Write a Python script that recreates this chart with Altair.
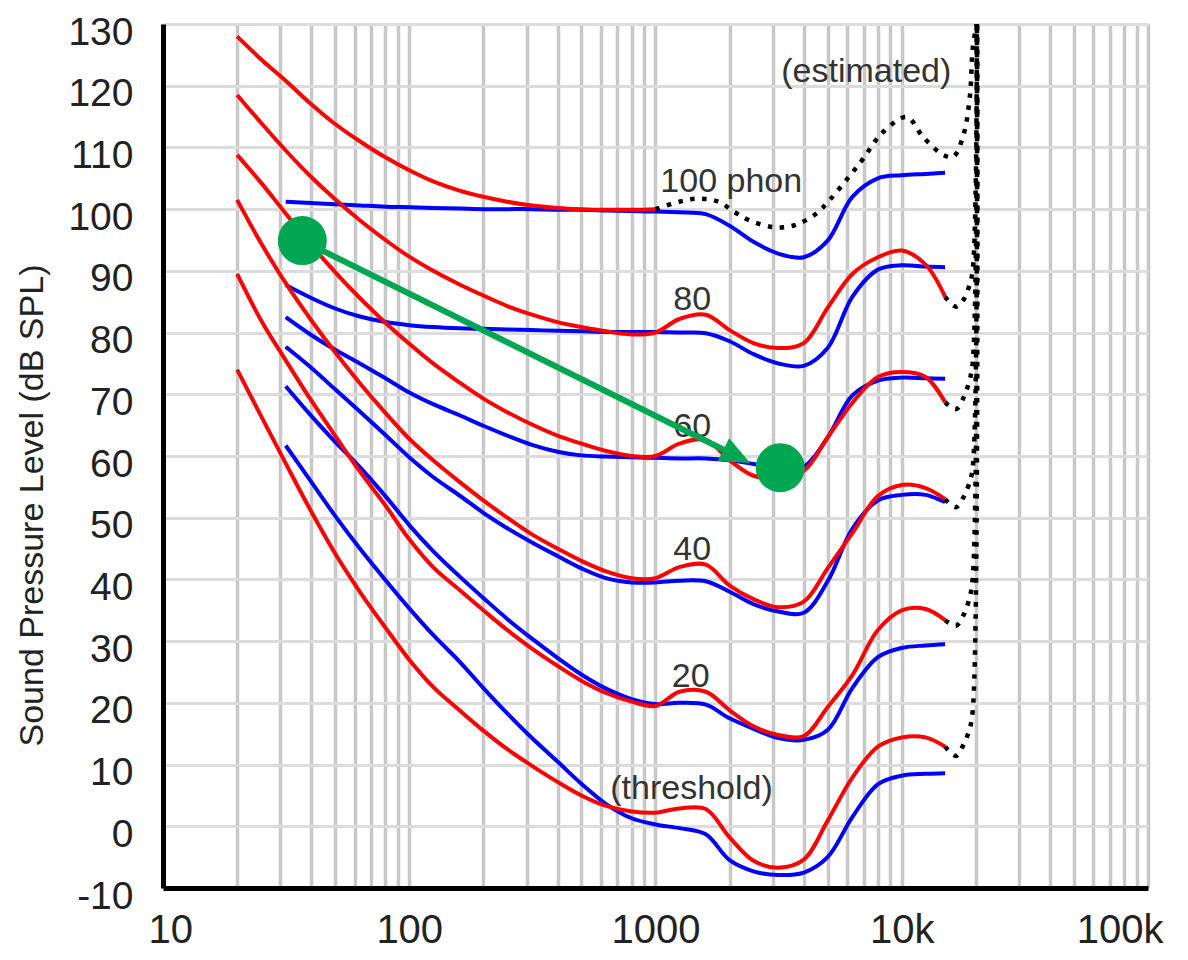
import altair as alt
import pandas as pd

# ---------------- data ----------------
FREQ = [20, 25, 31.5, 40, 50, 63, 80, 100, 125, 160, 200, 250, 315, 400, 500,
        630, 800, 1000, 1250, 1600, 2000, 2500, 3150, 4000, 5000, 6300, 8000,
        10000, 12500, 15000]

RED_THR = [74.0, 66.5, 58.8, 51.0, 44.2, 38.0, 32.2, 27.0, 22.6, 18.8, 15.5, 12.5,
           9.8, 7.2, 5.0, 3.3, 2.4, 2.2, 2.9, 2.8, -1.8, -5.6, -6.7, -5.4, 0.9,
           7.9, 12.9, 14.4, 14.4, 12.9]
RED_20 = [89.5, 82.0, 75.5, 69.0, 63.3, 57.5, 52.0, 46.5, 42.0, 38.3, 35.0, 31.8,
          28.8, 26.0, 23.6, 21.6, 20.2, 19.5, 21.8, 21.8, 18.8, 16.2, 14.8, 14.6,
          19.3, 24.5, 31.8, 35.0, 35.2, 33.4]
RED_40 = [101.5, 94.5, 88.0, 82.0, 76.8, 71.8, 67.0, 62.8, 59.3, 55.8, 52.8, 50.0,
          47.3, 45.0, 43.0, 41.3, 40.2, 40.2, 42.0, 42.4, 39.0, 36.8, 35.5, 36.4,
          41.8, 47.5, 53.5, 55.3, 54.8, 53.0]
RED_60 = [108.8, 104.3, 99.3, 94.2, 89.8, 85.6, 81.6, 78.2, 75.0, 71.9, 69.3, 67.1,
          65.1, 63.3, 62.0, 60.8, 60.0, 60.0, 62.0, 62.6, 59.3, 56.8, 56.4, 57.6,
          63.0, 68.6, 72.8, 73.6, 72.8, 68.7]
RED_80 = [118.5, 114.0, 109.5, 105.2, 101.6, 98.2, 95.0, 92.3, 90.0, 87.8, 86.0, 84.3,
          82.9, 81.7, 80.9, 80.2, 79.7, 80.0, 82.2, 82.9, 80.4, 78.3, 77.5, 78.3,
          84.0, 89.5, 92.2, 93.3, 91.0, 85.8]
RED_100_FREQ = [20, 25, 31.5, 40, 50, 63, 80, 100, 125, 160, 200, 250, 315, 400,
                500, 630, 800, 1000]
RED_100 = [128.0, 124.3, 120.8, 117.0, 113.8, 111.0, 108.4, 106.3, 104.5, 103.0,
           102.0, 101.2, 100.6, 100.2, 100.0, 99.9, 99.9, 100.0]

BLUE_FREQ = [31.5, 40, 50, 63, 80, 100, 125, 160, 200, 250, 315, 400, 500, 630, 800,
             1000, 1250, 1600, 2000, 2500, 3150, 4000, 5000, 6300, 8000, 10000,
             12500, 15000]
BLUE_THR = [61.7, 55.8, 50.3, 45.0, 39.9, 35.3, 31.0, 26.7, 22.4, 18.3, 14.3, 10.5,
            6.9, 3.6, 1.3, 0.3, -0.3, -1.3, -5.5, -7.3, -7.9, -7.5, -5.0, 1.5, 6.8,
            8.2, 8.5, 8.6]
BLUE_20 = [71.3, 66.5, 62.3, 58.2, 53.5, 48.8, 44.6, 40.5, 37.0, 33.6, 30.4, 27.3,
           24.6, 22.3, 20.6, 19.8, 20.0, 19.7, 17.5, 15.8, 14.3, 14.0, 15.6, 22.4,
           27.4, 28.9, 29.3, 29.5]
BLUE_40 = [77.7, 74.3, 70.8, 67.2, 63.4, 59.8, 56.6, 53.6, 50.8, 48.3, 46.0, 43.8,
           41.8, 40.2, 39.5, 39.5, 39.8, 39.7, 38.0, 36.0, 34.8, 34.6, 39.7, 48.2,
           52.8, 53.7, 53.7, 52.5]
BLUE_60 = [82.5, 79.6, 77.2, 75.0, 72.6, 70.3, 68.4, 66.6, 64.9, 63.3, 61.8, 60.7,
           60.1, 59.9, 59.8, 59.7, 59.6, 59.6, 59.3, 58.7, 58.1, 58.3, 63.0, 69.8,
           72.2, 72.7, 72.6, 72.5]
BLUE_80 = [87.7, 85.6, 83.9, 82.6, 81.7, 81.2, 80.9, 80.7, 80.6, 80.5, 80.4, 80.3,
           80.2, 80.1, 80.1, 80.1, 80.0, 79.9, 78.6, 76.5, 75.0, 74.6, 77.5, 85.8,
           90.2, 90.9, 90.7, 90.6]
BLUE_100 = [101.2, 101.0, 100.8, 100.6, 100.4, 100.3, 100.2, 100.1, 100.0, 100.0,
            100.0, 99.9, 99.9, 99.8, 99.7, 99.6, 99.5, 99.2, 97.3, 94.7, 92.8, 92.2,
            94.9, 102.0, 105.0, 105.5, 105.7, 105.9]

EST_FREQ = [1000, 1250, 1500, 1800, 2100, 2400, 3000, 3500, 3900, 4500, 5100, 6800,
            8400, 10500, 12200, 14700, 16200, 17800, 18900, 19400, 20100]
EST_100 = [100.0, 101.2, 101.7, 101.2, 99.5, 98.2, 97.1, 97.2, 97.8, 99.3, 101.5,
           107.6, 112.5, 114.9, 111.7, 108.8, 108.5, 112.0, 118.2, 125.8, 130.0]

TAIL_FREQ = [15000, 16600, 17800, 18700, 19400, 20200]
TAIL_THR = [12.9, 11.4, 13.2, 15.3, 18.5, 130.0]
TAIL_20 = [33.4, 32.5, 34.2, 36.5, 40.0, 130.0]
TAIL_40 = [53.0, 51.7, 53.3, 55.3, 58.0, 130.0]
TAIL_60 = [68.7, 67.6, 69.4, 71.8, 75.0, 130.0]
TAIL_80 = [85.8, 84.2, 85.3, 87.3, 90.0, 130.0]

DOT_FREQ = [36.8, 3210]
DOT_DB = [94.9, 58.1]
ARROW_FREQ = [36.8, 2140]
ARROW_DB = [94.9, 59.95]

LABELS = ["(estimated)", "100 phon", "80", "60", "40", "20", "(threshold)"]
LABEL_FREQ = [7180, 2030, 1410, 1410, 1410, 1390, 1400]
LABEL_DB = [122.2, 104.4, 85.3, 64.7, 44.8, 24.2, 6.0]

X_DECADES = [10, 100, 1000, 10000]
X_TICK_TEXT = {10: "10", 100: "100", 1000: "1000", 10000: "10k", 100000: "100k"}
Y_TICKS = list(range(-10, 131, 10))

# ---------------- build tables ----------------
def frame(freqs, values, name):
    return pd.DataFrame({"freq": freqs, "db": values, "curve": name})

red_df = pd.concat([
    frame(FREQ, RED_THR, "thr"), frame(FREQ, RED_20, "20"),
    frame(FREQ, RED_40, "40"), frame(FREQ, RED_60, "60"),
    frame(FREQ, RED_80, "80"), frame(RED_100_FREQ, RED_100, "100"),
])
blue_df = pd.concat([
    frame(BLUE_FREQ, BLUE_THR, "thr"), frame(BLUE_FREQ, BLUE_20, "20"),
    frame(BLUE_FREQ, BLUE_40, "40"), frame(BLUE_FREQ, BLUE_60, "60"),
    frame(BLUE_FREQ, BLUE_80, "80"), frame(BLUE_FREQ, BLUE_100, "100"),
])
dot_df = pd.concat([
    frame(EST_FREQ, EST_100, "est"), frame(TAIL_FREQ, TAIL_THR, "tthr"),
    frame(TAIL_FREQ, TAIL_20, "t20"), frame(TAIL_FREQ, TAIL_40, "t40"),
    frame(TAIL_FREQ, TAIL_60, "t60"), frame(TAIL_FREQ, TAIL_80, "t80"),
])
label_df = pd.DataFrame({"freq": LABEL_FREQ, "db": LABEL_DB, "label": LABELS})
dots_df = pd.DataFrame({"freq": DOT_FREQ, "db": DOT_DB})
arrow_df = pd.DataFrame({"freq": ARROW_FREQ, "db": ARROW_DB})
head_df = arrow_df.iloc[[1]]

grid_vals = [m * d for d in X_DECADES for m in range(1, 10)] + [100000]
label_expr = " : ".join(
    f"datum.value == {k} ? '{v}'" for k, v in X_TICK_TEXT.items()) + " : ''"

FONT = "Liberation Sans"
x_axis = alt.Axis(values=grid_vals, labelExpr=label_expr, title=None, grid=True,
                  gridColor="#c8c8c8", gridWidth=3.5, ticks=False,
                  domainColor="#000000", domainWidth=5, labelFont=FONT,
                  labelFontSize=40, labelColor="#222222", labelPadding=22,
                  labelFlush=True, labelFlushOffset=15, labelOverlap=False)
y_axis = alt.Axis(values=Y_TICKS, labelExpr="'' + datum.value",
                  title="Sound Pressure Level (dB SPL)", grid=True,
                  gridColor="#dcdcdc", gridWidth=3, ticks=False,
                  domainColor="#000000", domainWidth=5, labelFont=FONT,
                  labelFontSize=39, labelColor="#222222", labelPadding=30,
                  labelOffset=8,
                  titleFont=FONT, titleFontSize=34, titleFontWeight="normal",
                  titleColor="#222222", titleX=-131, titleY=481,
                  titleBaseline="middle", titleAlign="center")

X = alt.X("freq:Q", scale=alt.Scale(type="log", domain=[10, 100000], nice=False),
          axis=x_axis)
Y = alt.Y("db:Q", scale=alt.Scale(domain=[-10, 130], nice=False, zero=False),
          axis=y_axis)

GREEN = "#00a651"
CURVE = "catmull-rom"

blue = alt.Chart(blue_df).mark_line(color="#0000ff", strokeWidth=4,
                                    interpolate=CURVE).encode(
    x=X, y=Y, detail="curve:N")
red = alt.Chart(red_df).mark_line(color="#ff0000", strokeWidth=4,
                                  interpolate=CURVE).encode(
    x=X, y=Y, detail="curve:N")
dotted = alt.Chart(dot_df).mark_line(color="#000000", strokeWidth=4.5,
                                     strokeDash=[4.5, 7.5], strokeCap="butt",
                                     interpolate=CURVE, clip=True).encode(
    x=X, y=Y, detail="curve:N")
texts = alt.Chart(label_df).mark_text(font=FONT, fontSize=34, color="#333333",
                                      align="center", baseline="middle").encode(
    x=X, y=Y, text="label:N")
arrow = alt.Chart(arrow_df).mark_line(color=GREEN, strokeWidth=6).encode(x=X, y=Y)
head = alt.Chart(head_df).mark_point(shape="M-1,-0.85L1,0L-1,0.85Z", size=900,
                                     filled=True, color=GREEN, opacity=1,
                                     strokeWidth=0, angle=26.4).encode(x=X, y=Y)
dots = alt.Chart(dots_df).mark_circle(size=2400, color=GREEN, opacity=1).encode(
    x=X, y=Y)

chart = alt.layer(blue, red, dotted, texts, arrow, head, dots).properties(
    width=985, height=864,
    padding={"left": 155, "top": 16, "right": 17, "bottom": 64},
    autosize=alt.AutoSizeParams(type="none"),
).configure_view(strokeWidth=0).configure(font=FONT)

chart.save("out.html", embed_options={"renderer": "svg", "actions": False})
